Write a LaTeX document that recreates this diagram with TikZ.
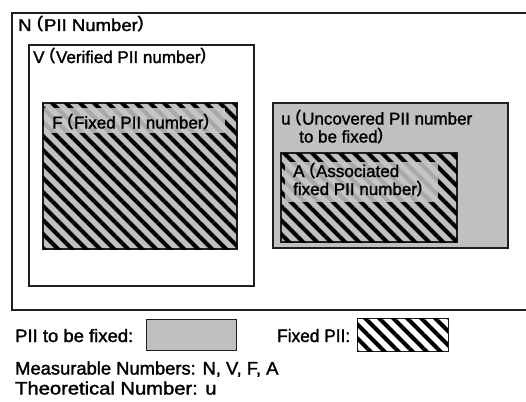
\documentclass[tikz,border=0pt]{standalone}
\usepackage{fontspec}
\setmainfont{Liberation Sans}[BoldFont=Liberation Sans, BoldFeatures={FakeBold=1.6}]
\newfontfamily\cjkfont{Noto Sans CJK JP Light}
\usetikzlibrary{patterns.meta}
\newcommand\lpar{\kern-5.5pt{\cjkfont （}\kern0pt}
\newcommand\rpar{\kern-1pt{\cjkfont ）}}
\newcommand\wide[2]{\scalebox{#1}[1]{#2}}
\definecolor{boxgray}{HTML}{C0C0C0}
\definecolor{edge}{HTML}{1E1E1E}
\definecolor{tagbg}{HTML}{C6C6C6}
\begin{document}
\begin{tikzpicture}[x=1pt,y=-1pt,
  frame/.style={draw=edge, line width=1.3pt, inner sep=0pt, outer sep=0pt, anchor=north west},
  hatch/.style={postaction={pattern={Lines[angle=-45,distance=9.9pt,line width=4pt]},pattern color=black}},
  tag/.style={fill=tagbg, fill opacity=0.85, draw=none, inner sep=0pt, anchor=north west},
  lbl/.style={anchor=base west, inner sep=0pt, font=\fontsize{17}{18}\selectfont\bfseries},
  note/.style={anchor=base west, inner sep=0pt, font=\fontsize{18}{20}\selectfont\bfseries}
]
\useasboundingbox[fill=white] (0,0) rectangle (526,401);

% outer set N (runs past the right edge)
\node[frame, line width=1.5pt, minimum width=530pt, minimum height=297pt] (N) at (12,13) {};
\node[lbl] (Nlbl) at (18,31) {\wide{1.09}{N\lpar PII Number\rpar}};

% verified set V
\node[frame, line width=1.1pt, minimum width=225pt, minimum height=241pt] (V) at (29,45) {};
\node[lbl] (Vlbl) at (33,63) {V\lpar Verified PII number\rpar};

% fixed set F
\node[frame, fill=boxgray, hatch, minimum width=194pt, minimum height=146pt] (F) at (43,103) {};
\node[tag, minimum width=181pt, minimum height=25pt] (Ftag) at (44,108) {};
\node[lbl] (Flbl) at (52,128.5) {F\lpar Fixed PII number\rpar};

% uncovered set u
\node[frame, fill=boxgray, minimum width=235pt, minimum height=145pt] (u) at (273,103) {};
\node[lbl] (ulbl1) at (281,124.5) {u\lpar Uncovered PII number};
\node[lbl] (ulbl2) at (299,142.5) {to be fixed\rpar};

% associated fixed set A
\node[frame, fill=boxgray, hatch, minimum width=176pt, minimum height=89pt] (A) at (281,153) {};
\node[tag, minimum width=153pt, minimum height=40pt] (Atag) at (285,162) {};
\node[lbl] (Albl1) at (293,177) {A\lpar Associated};
\node[lbl] (Albl2) at (293,195) {fixed PII number\rpar};

% legend
\node[note] (keyU) at (15,342) {\wide{1.026}{PII to be fixed:}};
\node[frame, fill=boxgray, line width=1pt, minimum width=90pt, minimum height=31pt] (keyUbox) at (146,319) {};
\node[note] (keyF) at (277,342) {\wide{0.96}{Fixed PII:}};
\node[frame, fill=white, hatch, line width=1pt, minimum width=91pt, minimum height=33pt] (keyFbox) at (357,318) {};

\node[note] (meas) at (15,374.5) {\wide{1.02}{Measurable Numbers: N, V, F, A}};
\node[note] (theo) at (15,394.5) {\wide{1.12}{Theoretical Number: u}};
\end{tikzpicture}
\end{document}
